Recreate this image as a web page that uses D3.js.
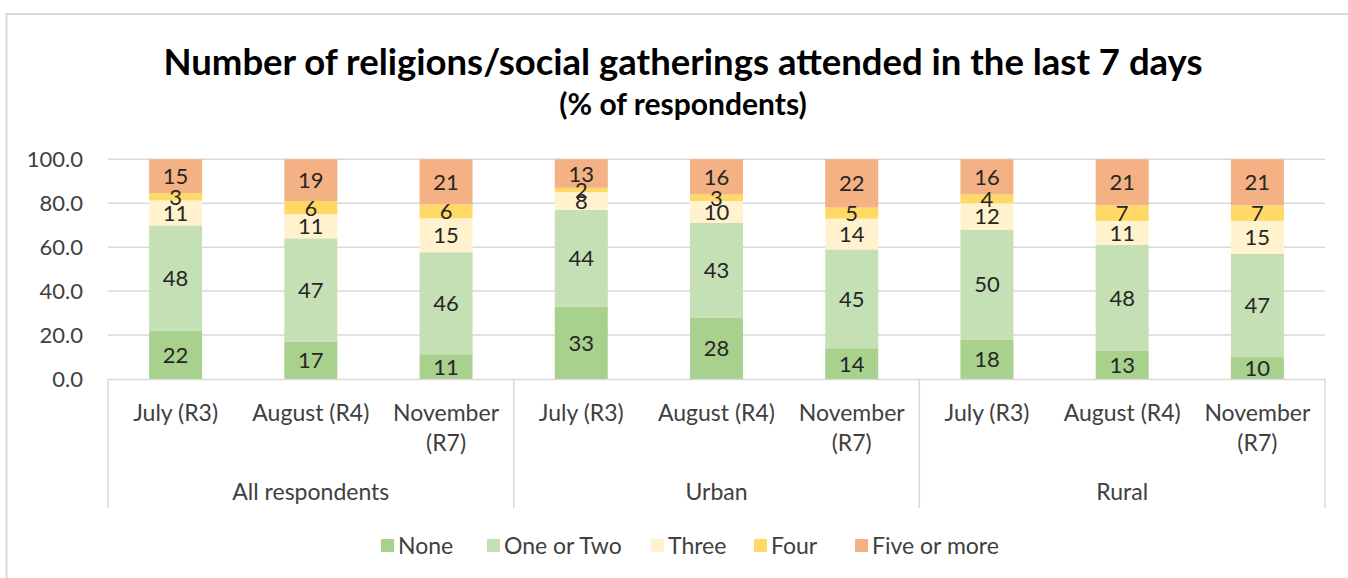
<!DOCTYPE html>
<html><head><meta charset="utf-8">
<script src="https://cdn.jsdelivr.net/npm/d3@7"></script>
<style>body{margin:0;background:#fff;} svg{display:block;font-family:Lato,"Open Sans",sans-serif;}</style>
</head><body>
<svg id="c" width="1348" height="578"></svg>
<script>
const groups = ["All respondents","Urban","Rural"];
const periods = [["July (R3)"],["August (R4)"],["November","(R7)"]];
const seriesNames = ["None","One or Two","Three","Four","Five or more"];
const colors = ["#a9d18e","#c5e0b4","#fff2cc","#ffd966","#f4b183"];
// values per bar (group-major), one array per series
const none      = [22.0,17,11.3, 33,28,14, 18,13,10];
const oneOrTwo  = [47.9,47,46.4, 44,43,45, 50,48,47];
const three     = [11.4,11,15.4,  8,10,14, 12,11,15];
const four      = [ 3.3, 6, 6.3,  2, 3, 5,  4, 7, 7];
const fiveMore  = [15.4,19,20.6, 13,16,22, 16,21,21];
const yTicks = [0,20,40,60,80,100];

const seriesVals = [none,oneOrTwo,three,four,fiveMore];
const bars = [];
groups.forEach((g,gi)=>periods.forEach((p,pi)=>{
  const i = gi*3+pi; const row = {id:i, group:g, period:p};
  seriesNames.forEach((s,si)=>row[s]=seriesVals[si][i]);
  bars.push(row);
}));

const svg = d3.select("#c");
// outer border (only top and left visible in the frame)
svg.append("rect").attr("x",6.5).attr("y",14).attr("width",1400).attr("height",700)
  .attr("fill","none").attr("stroke","#d9d9d9").attr("stroke-width",2);

const L=108, R=1325, T=159.3, B=379;
const x = d3.scaleBand().domain(bars.map(d=>d.id)).range([L,R]).paddingInner(0.608).paddingOuter(0.304);
const y = d3.scaleLinear().domain([0,100]).range([B,T]);

// gridlines
svg.append("g").selectAll("line").data(yTicks.filter(t=>t>0)).join("line")
  .attr("x1",L).attr("x2",R).attr("y1",d=>y(d)).attr("y2",d=>y(d))
  .attr("stroke","#d9d9d9").attr("stroke-width",1.5);

// y axis labels
const yAxis = d3.axisLeft(y).tickValues(yTicks).tickFormat(d3.format(".1f")).tickSize(0).tickPadding(25);
const ya = svg.append("g").attr("transform",`translate(${L},0)`).call(yAxis);
ya.select(".domain").remove();
ya.selectAll("text").attr("font-size",22).attr("fill","#404040").attr("font-family","Lato,sans-serif");

// stacks
const stack = d3.stack().keys(seriesNames)(bars);
const sg = svg.append("g").selectAll("g").data(stack).join("g").attr("fill",(d,i)=>colors[i]);
sg.selectAll("rect").data(d=>d).join("rect")
  .attr("x",d=>x(d.data.id)).attr("width",x.bandwidth())
  .attr("y",d=>y(d[1])).attr("height",d=>y(d[0])-y(d[1]));
// labels
const lg = svg.append("g").selectAll("g").data(stack).join("g");
lg.selectAll("text").data(d=>d.map(v=>({v,key:d.key}))).join("text")
  .attr("x",d=>x(d.v.data.id)+x.bandwidth()/2)
  .attr("y",d=>(y(d.v[0])+y(d.v[1]))/2)
  .attr("dy","0.36em").attr("text-anchor","middle")
  .attr("font-size",22).attr("fill","#262626")
  .text(d=>Math.round(d.v.data[d.key]));

// category axis with group boxes
const ag = svg.append("g").attr("stroke","#d9d9d9").attr("stroke-width",1.5);
ag.append("line").attr("x1",L).attr("x2",R).attr("y1",B+0.5).attr("y2",B+0.5);
const edgesX = [L, (x(2)+x.bandwidth()+x(3))/2, (x(5)+x.bandwidth()+x(6))/2, R];
ag.selectAll("line.v").data(edgesX).join("line").attr("class","v")
  .attr("x1",d=>d).attr("x2",d=>d).attr("y1",B).attr("y2",508);

const ct = svg.append("g");
bars.forEach(d=>{
  const cx = x(d.id)+x.bandwidth()/2;
  const t = ct.append("text").attr("x",cx).attr("y",421)
    .attr("text-anchor","middle").attr("font-size",23).attr("fill","#404040");
  d.period.forEach((line,li)=>t.append("tspan").attr("x",cx).attr("dy",li?30:0).text(line));
});
groups.forEach((g,gi)=>{
  ct.append("text").attr("x",(edgesX[gi]+edgesX[gi+1])/2).attr("y",500)
    .attr("text-anchor","middle").attr("font-size",23).attr("fill","#404040").text(g);
});

// title
svg.append("text").attr("x",683).attr("y",75).attr("text-anchor","middle")
  .attr("font-size",36.5).attr("font-weight","bold").attr("fill","#000")
  .text("Number of religions/social gatherings attended in the last 7 days");
svg.append("text").attr("x",683).attr("y",115).attr("text-anchor","middle")
  .attr("font-size",30).attr("font-weight","bold").attr("fill","#000")
  .text("(% of respondents)");

// legend
const legX = [381,487,651,754,855];
const leg = svg.append("g").selectAll("g").data(seriesNames).join("g")
  .attr("transform",(d,i)=>`translate(${legX[i]},546)`);
leg.append("rect").attr("x",0).attr("y",-7).attr("width",13).attr("height",13).attr("fill",(d,i)=>colors[i]);
leg.append("text").attr("x",17).attr("y",0).attr("dy","0.36em").attr("font-size",23).attr("fill","#404040").text(d=>d);
</script>
</body></html>
